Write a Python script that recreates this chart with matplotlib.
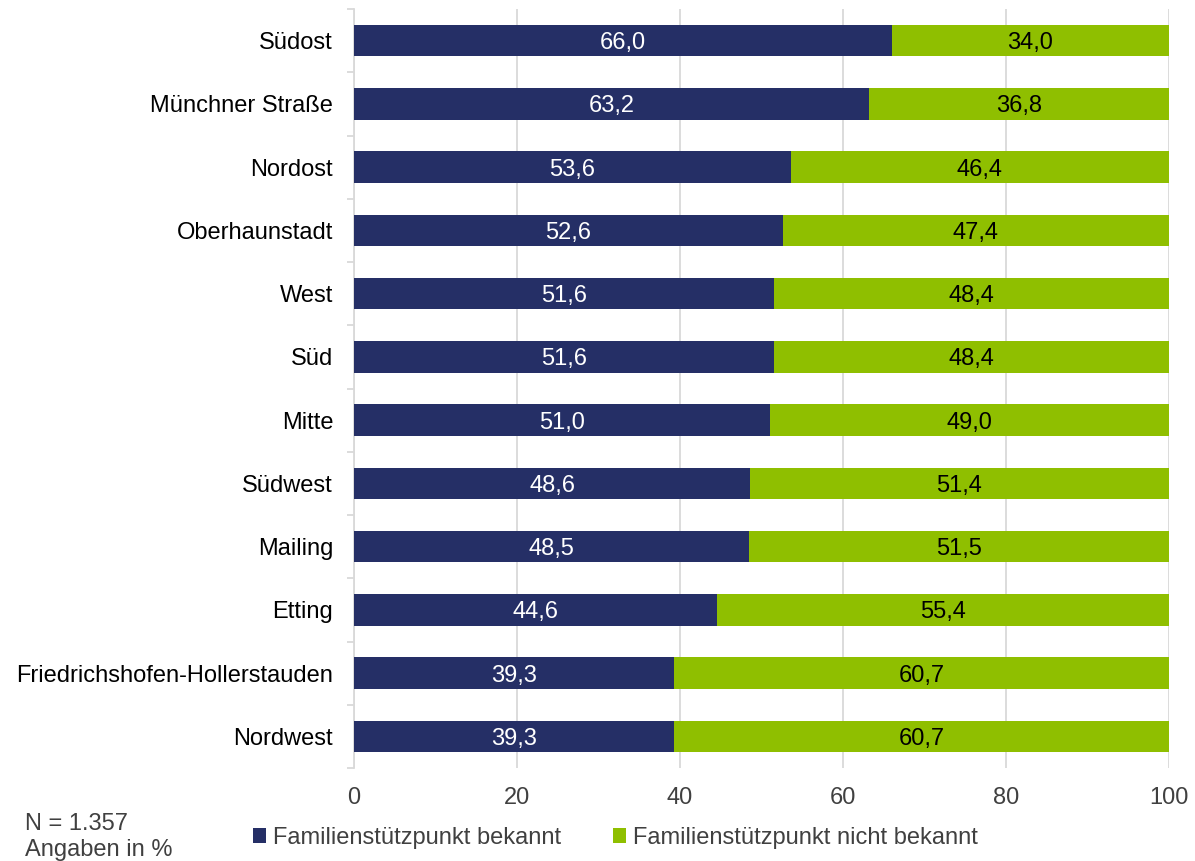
import numpy as np
import matplotlib.pyplot as plt
from matplotlib.patches import Patch

# Bekanntheit Familienstützpunkt nach Stadtbezirk (Angaben in %)
districts = ["Südost", "Münchner Straße", "Nordost", "Oberhaunstadt", "West", "Süd",
             "Mitte", "Südwest", "Mailing", "Etting",
             "Friedrichshofen-Hollerstauden", "Nordwest"]
known = [66.0, 63.2, 53.6, 52.6, 51.6, 51.6, 51.0, 48.6, 48.5, 44.6, 39.3, 39.3]
not_known = [34.0, 36.8, 46.4, 47.4, 48.4, 48.4, 49.0, 51.4, 51.5, 55.4, 60.7, 60.7]
series_names = ["Familienstützpunkt bekannt", "Familienstützpunkt nicht bekannt"]
x_ticks = [0, 20, 40, 60, 80, 100]

NAVY = "#252f66"
GREEN = "#8fbf00"
GRID = "#d9d9d9"
TXT = "#404040"
FS = 17

plt.rcParams["font.family"] = ["Liberation Sans", "DejaVu Sans"]

fig = plt.figure(figsize=(11.95, 8.61), dpi=100)
ax = fig.add_axes([0.2962, 0.108, 0.682, 0.8815])

y = np.arange(len(districts))
known = np.array(known)
not_known = np.array(not_known)

ax.barh(y, known, height=0.5, color=NAVY, zorder=3)
ax.barh(y, not_known, left=known, height=0.5, color=GREEN, zorder=3)

# value labels centred in each segment
for yi, a, b in zip(y, known, not_known):
    ax.text(a / 2, yi, f"{a:.1f}".replace(".", ","), ha="center", va="center_baseline",
            color="white", fontsize=FS, zorder=4)
    ax.text(a + b / 2, yi, f"{b:.1f}".replace(".", ","), ha="center", va="center_baseline",
            color="black", fontsize=FS, zorder=4)

ax.set_xlim(0, 100)
ax.set_ylim(len(districts) - 0.5, -0.5)
ax.set_xticks(x_ticks)
ax.set_xticklabels([str(v) for v in x_ticks])
ax.tick_params(axis="x", length=0, labelsize=FS, labelcolor=TXT, pad=14)
ax.xaxis.grid(True, color=GRID, linewidth=1.3, zorder=0)

ax.set_yticks(y)
ax.set_yticklabels(districts, va="center_baseline")
ax.set_yticks(np.arange(len(districts) + 1) - 0.5, minor=True)
ax.tick_params(axis="y", which="major", length=0, labelsize=FS, labelcolor="black", pad=15)
ax.tick_params(axis="y", which="minor", length=5, width=1.3, color=GRID)

for side in ["top", "right", "bottom"]:
    ax.spines[side].set_visible(False)
ax.spines["left"].set_color(GRID)
ax.spines["left"].set_linewidth(1.3)

handles = [Patch(facecolor=NAVY), Patch(facecolor=GREEN)]
leg = fig.legend(handles, series_names, loc="center", bbox_to_anchor=(0.515, 0.027),
                 ncol=2, frameon=False, fontsize=FS, handlelength=0.55, handleheight=0.55,
                 handletextpad=0.3, columnspacing=2.2, borderpad=0)
for t in leg.get_texts():
    t.set_color(TXT)

fig.text(0.021, 0.036, "N = 1.357", ha="left", va="baseline", fontsize=FS, color=TXT)
fig.text(0.021, 0.006, "Angaben in %", ha="left", va="baseline", fontsize=FS, color=TXT)

fig.savefig("out.png", dpi=100)
